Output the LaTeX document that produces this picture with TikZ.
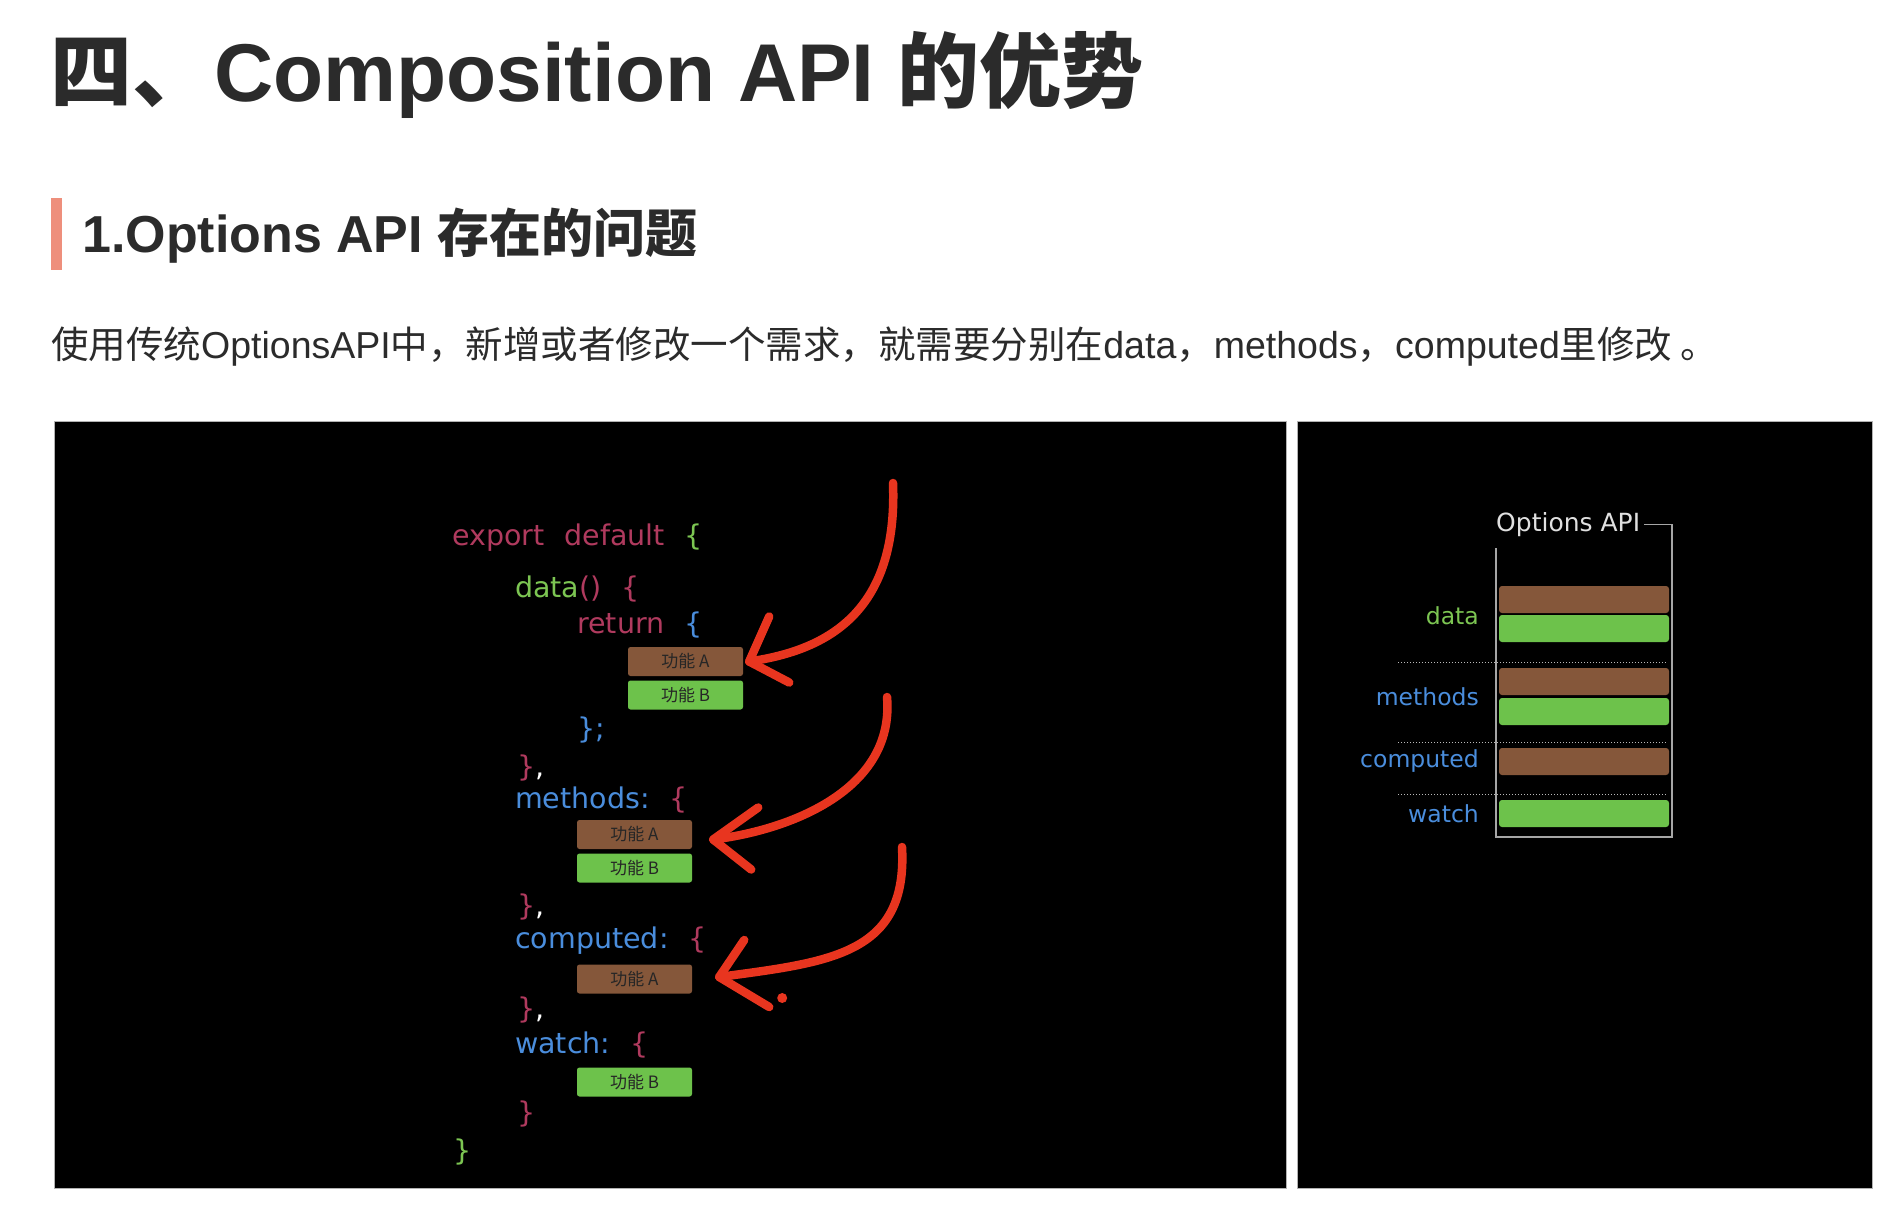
\documentclass[tikz,border=0pt]{standalone}
\usepackage{fontspec}
\setmainfont{Liberation Sans}
\newfontfamily\cjk{Noto Sans CJK SC}
\newfontfamily\codefont{DejaVu Sans}
\usetikzlibrary{positioning, calc}

\definecolor{codered}{HTML}{B03A5E}
\definecolor{codegreen}{HTML}{7CC552}
\definecolor{codeblue}{HTML}{4A8DDC}
\definecolor{boxbrown}{HTML}{85573A}
\definecolor{boxgreen}{HTML}{6DC24B}
\definecolor{penred}{HTML}{E8351F}
\definecolor{barpink}{HTML}{EE8F7C}
\definecolor{textdark}{HTML}{2B2B2B}

\newcommand{\gap}{\hspace{20pt}}

\begin{document}
\begin{tikzpicture}[x=1pt, y=-1pt,
    code/.style={font=\codefont\fontsize{28.5}{30}\selectfont, inner sep=0pt, anchor=base west},
    feat/.style={minimum width=115pt, minimum height=29pt, rounded corners=2.5pt, inner sep=0pt,
        font=\cjk\fontsize{17}{17}\selectfont, text=black!85},
    featA/.style={feat, fill=boxbrown},
    featB/.style={feat, fill=boxgreen},
    bar/.style={minimum width=170pt, minimum height=27pt, rounded corners=3pt, inner sep=0pt},
    lbl/.style={font=\codefont\fontsize{23.5}{24}\selectfont, anchor=base east, inner sep=0pt},
    pen/.style={penred, line width=8.5pt, line cap=round, line join=round},
    sep/.style={gray!55, dotted, line width=1pt}]

    % Page
    \useasboundingbox (0,0) rectangle (1894,1218);
    \fill[white] (0,0) rectangle (1894,1218);

    % Headings
    \node[anchor=base west, inner sep=0pt, text=textdark, font=\bfseries\fontsize{82}{90}\selectfont]
        (title) at (50,101) {{\cjk 四、}Composition API {\cjk 的优势}};
    \fill[barpink] (51,198) rectangle (62,270);
    \node[anchor=base west, inner sep=0pt, text=textdark, font=\bfseries\fontsize{52}{56}\selectfont]
        (head) at (82,252) {1.Options API {\cjk 存在的问题}};
    \node[anchor=base west, inner sep=0pt, text=textdark, font=\fontsize{37.5}{40}\selectfont]
        (para) at (51,358) {{\cjk 使用传统}OptionsAPI{\cjk 中，新增或者修改一个需求，就需要分别在}data{\cjk ，}methods{\cjk ，}computed{\cjk 里修改 。}};

    % Panels
    \filldraw[fill=black, draw=gray!60, line width=1pt] (54,421) rectangle (1286,1188);
    \filldraw[fill=black, draw=gray!60, line width=1pt] (1297,421) rectangle (1872,1188);

    % Code
    \node[code] (expt) at (452,545) {\color{codered}export\gap default\gap\color{codegreen}\{};
    \node[code] (data) at (515,597) {\color{codegreen}data\color{codered}()\gap\{};
    \node[code] (ret) at (577,633) {\color{codered}return\gap\color{codeblue}\{};
    \node[featA] (a1) at (685.5,661.5) {功能 A};
    \node[featB] (b1) at (685.5,695) {功能 B};
    \node[code] (retend) at (577,738) {\color{codeblue}\};};
    \node[code] (dataend) at (517,776) {\color{codered}\}\color{white},};
    \node[code] (meth) at (515,808) {\color{codeblue}methods:\gap\color{codered}\{};
    \node[featA] (a2) at (634.5,834.5) {功能 A};
    \node[featB] (b2) at (634.5,868) {功能 B};
    \node[code] (methend) at (517,915) {\color{codered}\}\color{white},};
    \node[code] (comp) at (515,948) {\color{codeblue}computed:\gap\color{codered}\{};
    \node[featA] (a3) at (634.5,979) {功能 A};
    \node[code] (compend) at (517,1018) {\color{codered}\}\color{white},};
    \node[code] (wat) at (515,1053) {\color{codeblue}watch:\gap\color{codered}\{};
    \node[featB] (b3) at (634.5,1082) {功能 B};
    \node[code] (watend) at (517,1122) {\color{codered}\}};
    \node[code] (expend) at (453,1160) {\color{codegreen}\}};

    % Red pen arrows
    \coordinate (p1) at (893,483);
    \coordinate (t1) at ($(a1.east)+(6,0)$);
    \draw[pen] (p1) .. controls (898,610) and (830,650) .. (t1);
    \draw[pen] ($(t1)+(20,-45)$) -- (t1) -- ($(t1)+(40,21)$);

    \coordinate (p2) at (887,697);
    \coordinate (t2) at ($(a2.east)+(21,5)$);
    \draw[pen] (p2) .. controls (895,790) and (790,830) .. (t2);
    \draw[pen] ($(t2)+(45,-32)$) -- (t2) -- ($(t2)+(38,30)$);

    \coordinate (p3) at (902,847);
    \coordinate (t3) at ($(a3.east)+(27,-2)$);
    \draw[pen] (p3) .. controls (908,955) and (830,962) .. (t3);
    \draw[pen] ($(t3)+(25,-37)$) -- (t3) -- ($(t3)+(50,30)$);
    \fill[penred] ($(t3)+(63,21)$) circle (5pt);

    % Options API stack
    \node[font=\codefont\fontsize{25}{25}\selectfont, text=white!88!black, anchor=base west, inner sep=0pt]
        (opt) at (1496,531) {Options API};
    \draw[gray!70, line width=1.2pt] ([xshift=4pt]opt.east) -| (1672,837) -| (1496,548);

    \node[bar, fill=boxbrown] (dA) at (1584,599.5) {};
    \node[bar, fill=boxgreen] (dB) at (1584,628.5) {};
    \node[bar, fill=boxbrown] (mA) at (1584,681.5) {};
    \node[bar, fill=boxgreen] (mB) at (1584,711.5) {};
    \node[bar, fill=boxbrown] (cA) at (1584,761.5) {};
    \node[bar, fill=boxgreen] (wB) at (1584,813.5) {};

    \draw[sep] (1398,662) -- (1667,662);
    \draw[sep] (1398,742) -- (1667,742);
    \draw[sep] (1398,794) -- (1667,794);

    \node[lbl, text=codegreen] (ldata) at (1479,624) {data};
    \node[lbl, text=codeblue] (lmeth) at (1479,705) {methods};
    \node[lbl, text=codeblue] (lcomp) at (1479,767) {computed};
    \node[lbl, text=codeblue] (lwat) at (1479,822) {watch};

\end{tikzpicture}
\end{document}
